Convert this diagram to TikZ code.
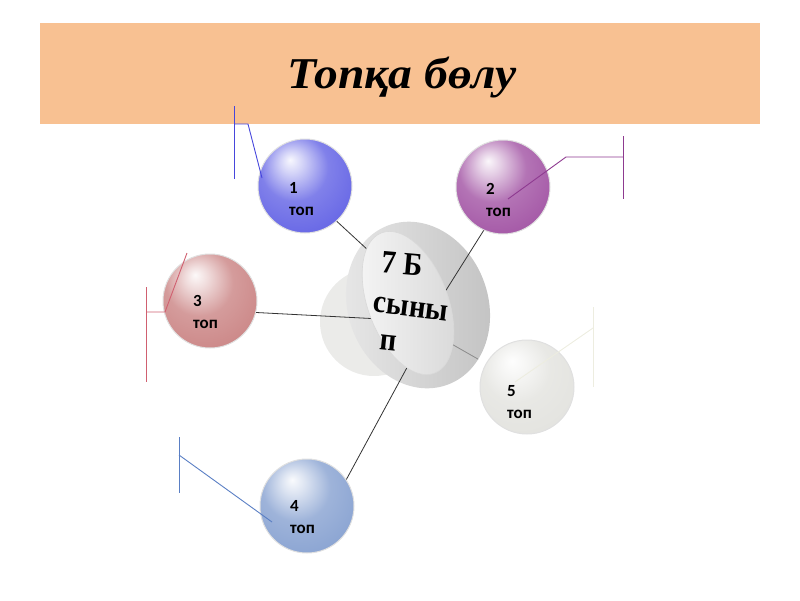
\documentclass[tikz,border=0pt]{standalone}
\usepackage{fontspec}
\newfontfamily\tnrfont{Liberation Serif}
\newfontfamily\carlfont{Carlito}
\definecolor{banner}{HTML}{F8C192}
\definecolor{blueS}{HTML}{6A6AE6}
\definecolor{purpS}{HTML}{A65BA8}
\definecolor{pinkS}{HTML}{CD8A8A}
\definecolor{lblueS}{HTML}{8DA6D3}
\definecolor{whiteS}{HTML}{E4E4E0}
\definecolor{blueL}{HTML}{4646DC}
\definecolor{purpL}{HTML}{8E3A90}
\definecolor{pinkL}{HTML}{D06070}
\definecolor{lblueL}{HTML}{5A7FC4}
\definecolor{whiteL}{HTML}{EDEDE0}
\definecolor{pale}{HTML}{EBEBE9}
\colorlet{sphbase}{blue}
\pgfdeclareradialshading[sphbase]{sphere}{\pgfpoint{-8bp}{14bp}}{color(0bp)=(sphbase!5!white); color(6bp)=(sphbase!30!white); color(18bp)=(sphbase!85!white); color(32bp)=(sphbase); color(52bp)=(sphbase!90!black); color(62bp)=(sphbase!82!black)}
\begin{document}
\begin{tikzpicture}[x=1pt,y=-1pt,
  sph/.style={circle, minimum size=94pt, inner sep=0pt, draw=black!12, line width=1pt,
     /utils/exec={\colorlet{sphbase}{#1}}, shading=sphere},
  lbl/.style={anchor=west, align=left, font=\carlfont\bfseries\fontsize{17}{22}\selectfont, inner sep=0pt},
  conn/.style={draw=black!80, line width=0.8pt},
  callout/.style={line width=0.9pt},
  dtext/.style={font=\tnrfont\bfseries\fontsize{29}{29}\selectfont, transform shape, inner sep=0pt}]
\useasboundingbox (0,0) rectangle (800,600);
% banner
\fill[banner] (40,23) rectangle (760,124);
\node[font=\tnrfont\bfseries\itshape\fontsize{44}{44}\selectfont, transform shape, xscale=1.08] (title) at (402,77) {Топқа бөлу};
% pale circle
\fill[pale] (374,322) circle (54);
% rim
\begin{scope}[shift={(418,305)}, rotate=20.6]
  \path[left color=black!9, right color=black!24] (0,0) ellipse [x radius=70, y radius=85];
\end{scope}
% spheres
\node[sph=blueS] (c1) at (305,186) {};
\node[sph=purpS] (c2) at (503,187) {};
\node[sph=pinkS] (c3) at (210,301) {};
\node[sph=lblueS] (c4) at (307,506) {};
\node[sph=whiteS] (c5) at (527,387) {};
% hidden end points
\coordinate (h1) at (395,275);
\coordinate (h2) at (426,322);
\coordinate (h3) at (400,320);
\coordinate (h4) at (410,362);
\coordinate (h5) at (420,326);
\draw[conn] (c1.-48) -- (h1);
\draw[conn] (c2.-114) -- (h2);
\draw[conn] (c3.-14) -- (h3);
\draw[conn] (c4.34) -- (h4);
\begin{scope}
  \clip[shift={(418,305)}, rotate=20.6] (0,0) ellipse [x radius=70, y radius=85];
  \draw[draw=black!45, line width=0.8pt] (c5) -- (h5);
\end{scope}
% face
\begin{scope}[shift={(408,303)}, rotate=20.6]
  \path[left color=black!4, right color=black!15, draw=black!15, line width=0.6pt] (0,0) ellipse [x radius=40, y radius=75];
\end{scope}
% disk text
\node[dtext, rotate=-5, yscale=1.12] (d1) at (402,264) {7 Б};
\node[dtext, rotate=-7, yscale=1.12] (d2) at (411,309) {сыны};
\node[dtext, rotate=-6, yscale=1.12] (d3) at (388,343) {п};
% labels
\node[lbl] (t1) at (289,199) {1\\топ};
\node[lbl] (t2) at (486,200) {2\\топ};
\node[lbl] (t3) at (193,312) {3\\топ};
\node[lbl] (t4) at (290,517) {4\\топ};
\node[lbl] (t5) at (507,402) {5\\топ};
% callouts
\coordinate (a1) at (234,106); \coordinate (b1) at (234,179);
\coordinate (k1) at (234,124); \coordinate (m1) at (248,124); \coordinate (e1) at (262,178);
\draw[callout, blueL] (a1) -- (b1);
\draw[callout, blueL] (k1) -- (m1) -- (e1);
\coordinate (a2) at (623,136); \coordinate (b2) at (623,199);
\coordinate (k2) at (623,157); \coordinate (m2) at (566,157); \coordinate (e2) at (508,199);
\draw[callout, purpL] (a2) -- (b2);
\draw[callout, purpL] (k2) -- (m2) -- (e2);
\coordinate (a3) at (146,287); \coordinate (b3) at (146,382);
\coordinate (k3) at (146,312); \coordinate (m3) at (165,312); \coordinate (e3) at (187,253);
\draw[callout, pinkL] (a3) -- (b3);
\draw[callout, pinkL] (k3) -- (m3) -- (e3);
\coordinate (a4) at (179,437); \coordinate (b4) at (179,493);
\coordinate (k4) at (179,455); \coordinate (e4) at (272,522);
\draw[callout, lblueL] (a4) -- (b4);
\draw[callout, lblueL] (k4) -- (e4);
\coordinate (a5) at (593,307); \coordinate (b5) at (593,387);
\coordinate (k5) at (593,328); \coordinate (e5) at (515,382);
\draw[callout, whiteL] (a5) -- (b5);
\draw[callout, whiteL] (k5) -- (e5);
\end{tikzpicture}
\end{document}
